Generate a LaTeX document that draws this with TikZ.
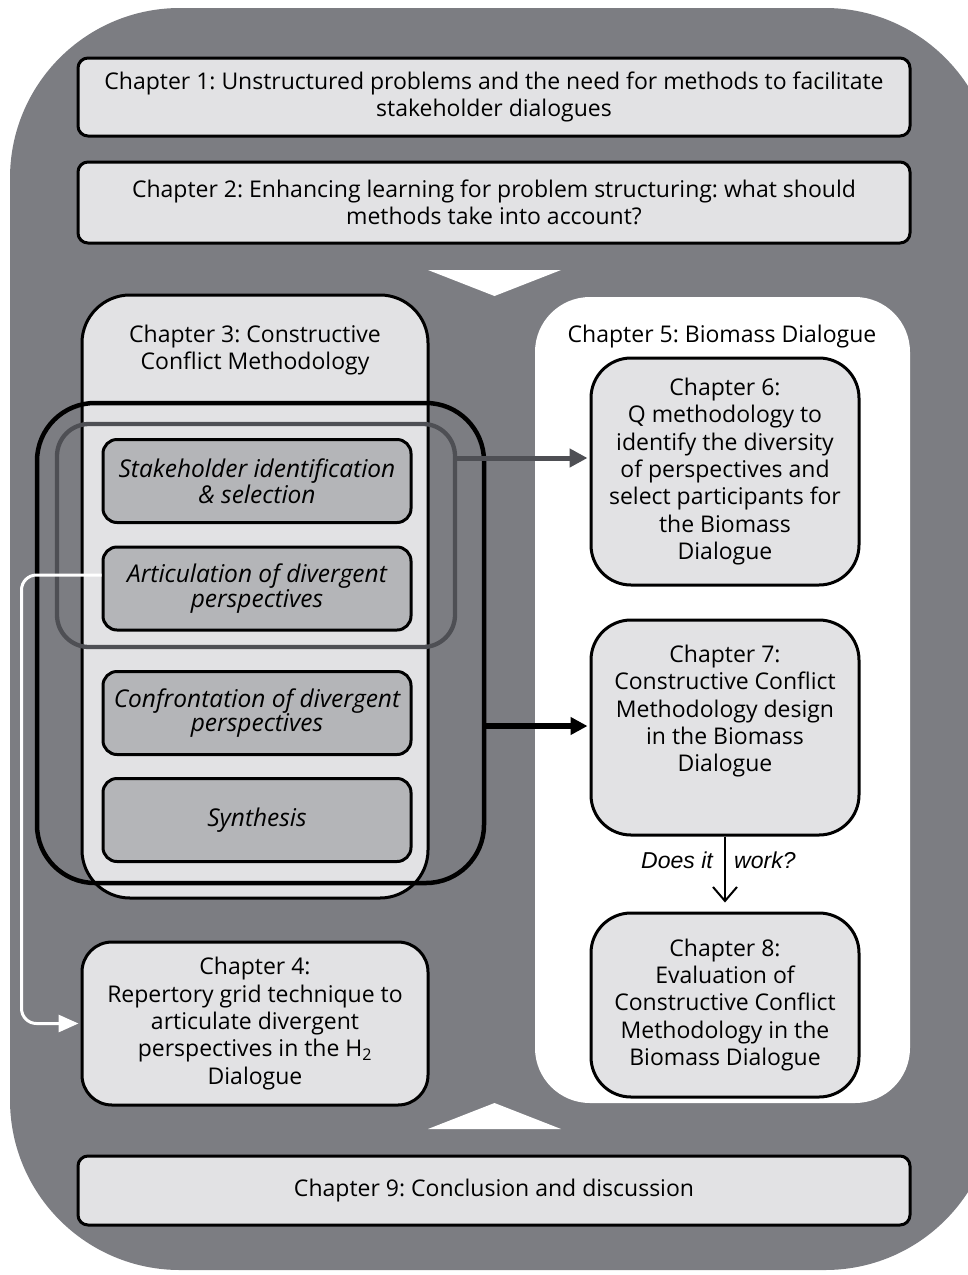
\documentclass[tikz,border=0pt]{standalone}
\usepackage{fontspec}
\setmainfont{Open Sans}
\newfontfamily\arialfont{Liberation Sans}
\usetikzlibrary{arrows.meta}
\definecolor{outergray}{HTML}{7C7D82}
\definecolor{boxlight}{HTML}{E2E2E4}
\definecolor{boxmid}{HTML}{B4B5B8}
\definecolor{framegray}{HTML}{4E4F54}
\newcommand\chapfont{\fontsize{23}{27.4}\selectfont}
\newcommand\stepfont{\fontsize{24.5}{23.5}\selectfont\itshape}
\frenchspacing
\begin{document}
\begin{tikzpicture}[x=1pt,y=-1pt,
  chapbox/.style={draw=black, line width=3pt, fill=boxlight, rounded corners=#1,
    inner sep=0pt, align=center, font=\chapfont},
  stepbox/.style={draw=black, line width=3pt, fill=boxmid, rounded corners=14,
    inner sep=0pt, align=center, font=\stepfont, minimum width=308, minimum height=83},
  titletext/.style={inner sep=0pt, align=center, font=\chapfont},
  asklabel/.style={inner sep=0pt, font=\arialfont\itshape\fontsize{23}{27}\selectfont}]
\useasboundingbox (0,0) rectangle (968,1275);
\clip (0,0) rectangle (968,1275);

% backdrop
\fill[outergray, rounded corners=170] (10,8) rectangle (995,1270);
\fill[white] (428,270) -- (561,270) -- (494.5,296) -- cycle;
\fill[white] (494.5,1103) -- (561,1129) -- (428,1129) -- cycle;

% opening and closing chapters
\node[chapbox=10, minimum width=832, minimum height=78] (ch1) at (494,97)
  {Chapter 1: Unstructured problems and the need for methods to facilitate\\stakeholder dialogues};
\node[chapbox=10, minimum width=832, minimum height=81] (ch2) at (494,202.5)
  {Chapter 2: Enhancing learning for problem structuring: what should\\methods take into account?};
\node[chapbox=10, minimum width=832, minimum height=69] (ch9) at (494,1190.5)
  {Chapter 9: Conclusion and discussion};

% biomass dialogue panel
\node[fill=white, rounded corners=55, minimum width=375, minimum height=806, inner sep=0pt] (ch5) at (722.5,700) {};
\node[titletext, anchor=base] (ch5title) at (722,342) {Chapter 5: Biomass Dialogue};

% constructive conflict methodology panel
\node[chapbox=48, minimum width=346, minimum height=603] (ch3) at (255,596.5) {};
\node[titletext] (ch3title) at (255,350) {Chapter 3: Constructive\\Conflict Methodology};

\node[stepbox] (stake) at (257,481) {Stakeholder identification\\\& selection};
\node[stepbox, font=\fontsize{24.5}{25}\selectfont\itshape] (artic) at (257,588.5) {Articulation of divergent\\perspectives};
\node[stepbox, font=\fontsize{24.5}{22}\selectfont\itshape] (confr) at (257,713) {Confrontation of divergent\\perspectives};
\node[stepbox] (synth) at (257,820) {Synthesis};

\node[chapbox=30, minimum width=346, minimum height=163] (ch4) at (255,1023.5)
  {Chapter 4:\\Repertory grid technique to\\articulate divergent\\perspectives in the H\textsubscript{2}\\Dialogue};

% grouping frames
\node[draw=black, line width=4.5pt, rounded corners=58, minimum width=447, minimum height=480, inner sep=0pt] (bframe) at (260.5,643) {};
\node[draw=framegray, line width=4.3pt, rounded corners=32, minimum width=398, minimum height=223, inner sep=0pt] (dframe) at (256,535.5) {};

% biomass chapters
\node[chapbox=40, minimum width=268, minimum height=227] (ch6) at (725,471.5)
  {Chapter 6:\\Q methodology to\\identify the diversity\\of perspectives and\\select participants for\\the Biomass\\Dialogue};
\node[chapbox=40, minimum width=268, minimum height=215] (ch7) at (725,727.5)
  {Chapter 7:\\Constructive Conflict\\Methodology design\\in the Biomass\\Dialogue\\[11pt]\mbox{}};
\node[chapbox=40, minimum width=268, minimum height=184] (ch8) at (725,1005)
  {Chapter 8:\\Evaluation of\\Constructive Conflict\\Methodology in the\\Biomass Dialogue};

% connectors
\coordinate (g6) at ([yshift=77.5pt]dframe.east);
\draw[framegray, line width=5pt, shorten >=2pt, -{Triangle[length=18pt,width=18pt]}] (g6) -- (g6 -| ch6.west);
\coordinate (b7) at ([yshift=-83pt]bframe.east);
\draw[black, line width=6pt, shorten >=2pt, -{Triangle[length=17pt,width=17pt]}] (b7) -- (b7 -| ch7.west);
\coordinate (w0) at ([yshift=13.5pt]artic.west);
\draw[white, line width=3pt, rounded corners=15, shorten >=2pt, -{Triangle[length=20pt,width=17pt]}]
  (w0) -| ([xshift=-59pt]ch4.west) -- (ch4.west);
\draw[black, line width=2pt, shorten >=9pt, -{Straight Barb[length=14pt,width=24pt]}] (ch7.south) -- (ch8.north);
\node[asklabel, anchor=base east] (ask1) at (713,868) {Does it};
\node[asklabel, anchor=base west] (ask2) at (734,868) {work?};
\end{tikzpicture}
\end{document}
